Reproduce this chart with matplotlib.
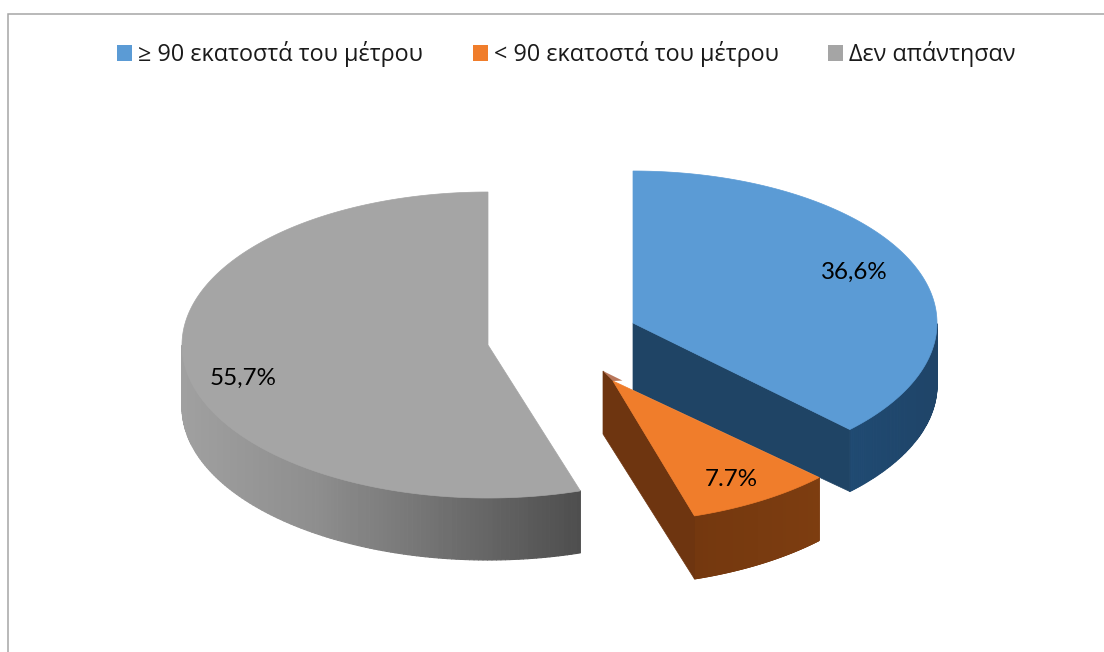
import numpy as np
import matplotlib
matplotlib.use("Agg")
import matplotlib.pyplot as plt
from matplotlib.collections import PolyCollection
from matplotlib.colors import LinearSegmentedColormap
from matplotlib.patches import Patch, Polygon

# ---- data -------------------------------------------------------------
categories = ["≥ 90 εκατοστά του μέτρου", "< 90 εκατοστά του μέτρου", "Δεν απάντησαν"]
values = [36.6, 7.7, 55.7]
value_labels = ["36,6%", "7.7%", "55,7%"]

# ---- styling / layout (pixels) ------------------------------------------
top_colors = ["#5B9BD5", "#F07D2B", "#A5A5A5"]
cut_colors = ["#1F4465", "#6E3510", None]
rim_ramps = [["#1F4A72", "#1F4468"], ["#74380F", "#7D3D10"], ["#A0A0A0", "#8E8E8E", "#6F6F6F", "#4E4E4E"]]
centers = [(633, 323), (603, 371), (488, 345)]
radii = [(304, 152), (303, 152), (306, 153)]
depths = [62, 63, 62]
label_xy = [(854, 272), (731, 479), (243, 378)]
draw_order = [2, 0, 1]
SKEW = 3.0          # small view distortion of the projected angles (degrees)
W, H = 1104, 652


def warp(theta):
    t = np.radians(theta)
    return t + np.radians(SKEW) * np.sin(t / 2)


def project(theta, c, r):
    """Angle clockwise from 12 o'clock -> screen position on the tilted disc."""
    t = warp(theta)
    return c[0] + r[0] * np.sin(t), c[1] - r[1] * np.cos(t)


fig = plt.figure(figsize=(W / 100, H / 100), dpi=100, facecolor="white")
ax = fig.add_axes([0, 0, 1, 1])
ax.set_xlim(0, W)
ax.set_ylim(H, 0)
ax.axis("off")

# outer chart frame (only top and left edges are in the picture)
ax.plot([8, 8, W], [H, 14, 14], color="#A6A6A6", lw=1.1, solid_joinstyle="miter", clip_on=False)

edges = np.cumsum([0] + values) / sum(values) * 360

for i in draw_order:
    c, r, d = centers[i], radii[i], depths[i]
    start, end = edges[i], edges[i + 1]
    th = np.linspace(start, end, 240)
    x, y = project(th, c, r)
    apex = (c[0] + 10, c[1] + 10) if i == 1 else c

    # outer rim, drawn as thin strips so it can carry a shading ramp
    phi = np.degrees(warp(th))
    mask = (phi >= 90) & (phi <= 270)
    if mask.any():
        cmap = LinearSegmentedColormap.from_list("rim", rim_ramps[i])
        xr, yr = x[mask], y[mask]
        polys = [[(xr[k], yr[k]), (xr[k + 1], yr[k + 1]), (xr[k + 1], yr[k + 1] + d), (xr[k], yr[k] + d)]
                 for k in range(len(xr) - 1)]
        span = max(xr.max() - xr.min(), 1)
        cols = cmap(((xr[:-1] + xr[1:]) / 2 - xr.min()) / span)
        ax.add_collection(PolyCollection(polys, facecolors=cols, edgecolors=cols, linewidths=0.8, zorder=3 + i))

    # cut face hanging under the straight edge of the slice
    if cut_colors[i]:
        ex, ey = project(end, c, r)
        if i == 0:
            pts = [c, (ex, ey), (ex, ey + d), (c[0], c[1] + d + 5)]
        else:
            pts = [c, apex, (ex, ey), (ex, ey + d), (c[0], c[1] + d)]
        ax.add_patch(Polygon(pts, closed=True, fc=cut_colors[i], ec=cut_colors[i], lw=0.5, zorder=3 + i))

    # top surface
    ax.add_patch(Polygon([apex] + list(zip(x, y)), closed=True, fc=top_colors[i], ec=top_colors[i],
                         lw=0.5, zorder=3.5 + i))
    if i == 1:
        # bevel highlight at the tip of the exploded slice
        sx, sy = project(start, c, r)
        f = 0.09
        ax.add_patch(Polygon([c, apex, (c[0] + (sx - c[0]) * f, c[1] + (sy - c[1]) * f)],
                             closed=True, fc="#B9765A", ec="none", zorder=3.6 + i))

# data labels
for lab, (lx, ly) in zip(value_labels, label_xy):
    ax.text(lx, ly, lab, ha="center", va="center", fontsize=17.4, family="Lato", color="#000000", zorder=10)

# legend
handles = [Patch(fc=c, ec="none") for c in top_colors]
leg = ax.legend(handles, categories, ncol=3, loc="center left", bbox_to_anchor=(117 / W, 1 - 54 / H),
                frameon=False, handlelength=0.65, handleheight=0.65, handletextpad=0.26, columnspacing=2.12,
                borderpad=0, borderaxespad=0, prop={"family": "Open Sans", "size": 16.8}, labelcolor="#1A1A1A")

fig.savefig("out.png", dpi=100)
